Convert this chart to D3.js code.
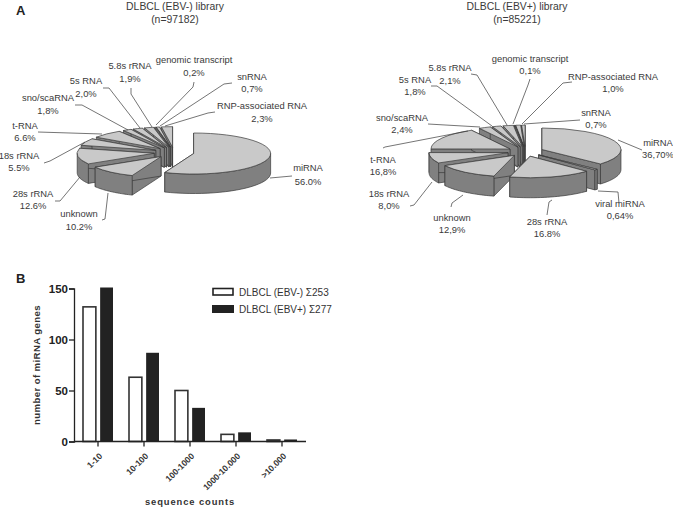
<!DOCTYPE html>
<html>
<head>
<meta charset="utf-8">
<title>DLBCL small RNA libraries</title>
<script src="https://cdn.jsdelivr.net/npm/d3@7"></script>
<style>
  html, body { margin: 0; padding: 0; background: #fff; }
  svg { display: block; }
  text { font-family: "Liberation Sans", Arial, sans-serif; }
</style>
</head>
<body>
<svg id="chart" width="673" height="507"></svg>
<script>
// pie A, clockwise from 12 o'clock
const negNames = ["miRNA", "unknown", "28s rRNA", "18s rRNA", "t-RNA", "sno/scaRNA", "5s RNA", "5.8s rRNA", "genomic transcript", "snRNA", "RNP-associated RNA"];
const negValues = [56.0, 10.2, 12.6, 5.5, 6.6, 1.8, 2.0, 1.9, 0.2, 0.7, 2.3];
const negText = ["56.0%", "10.2%", "12.6%", "5.5%", "6.6%", "1,8%", "2,0%", "1,9%", "0,2%", "0,7%", "2,3%"];

// pie B
const posNames = ["miRNA", "viral miRNA", "28s rRNA", "unknown", "18s rRNA", "t-RNA", "sno/scaRNA", "5s RNA", "5.8s rRNA", "genomic transcript", "RNP-associated RNA", "snRNA"];
const posValues = [36.7, 0.64, 16.8, 12.9, 8.0, 16.8, 2.4, 1.8, 2.1, 0.1, 1.0, 0.7];
const posText = ["36,70%", "0,64%", "16.8%", "12,9%", "8,0%", "16,8%", "2,4%", "1,8%", "2,1%", "0,1%", "1,0%", "0,7%"];

// bars
const countBins = ["1-10", "10-100", "100-1000", "1000-10.000", ">10.000"];
const barNeg = [132, 63, 50, 7, 1.5];
const barPos = [150, 86, 32, 8, 1];
const yTicks = [0, 50, 100, 150];

// label anchors: [center x, first baseline, second baseline]
const negLabelPos = [[308,171,185],[79,217,230],[33,197,209],[19,159,171],[25,129,141],[48,101,114],[86,84,97],[130,69,82],[194,63,76],[252,80,92],[262,109,122]];
const posLabelPos = [[658,146,158],[620,207,219],[547,225,237],[452,221,233],[389,197,209],[383,163,175],[402,121,133],[415,83,95],[450,71,84],[530,62,74],[613,80,92],[596,116,128]];

// leader lines, same order as the names
const negLeaders = [
  [[292,176],[270,178]],
  [[102,220],[105,219],[108,193]],
  [[55,201],[60,201],[80,177]],
  [[44,163],[50,161],[85,142]],
  [[38,132],[102,134]],
  [[75,105],[82,105],[128,130]],
  [[103,88],[109,88],[140,128]],
  [[131,88],[131,94],[152,127]],
  [[194,82],[193,87],[156,125]],
  [[232,83],[224,84],[160,126]],
  [[215,112],[208,113],[165,126]]
];
const posLeaders = [
  [[642,150],[618,140]],
  [[619,203],[618,192],[598,191]],
  [[547,215],[549,202],[552,200]],
  [[451,207],[452,203],[463,195]],
  [[410,206],[414,205],[432,182]],
  [[383,148],[385,147],[468,131]],
  [[428,124],[480,127]],
  [[431,86],[437,86],[492,126]],
  [[471,74],[477,75],[507,125]],
  [[530,79],[528,85],[513,124]],
  [[572,82],[563,83],[522,124]],
  [[580,120],[524,124]]
];

const svg = d3.select("#chart");
const ink = "#3a3a3a";
const topFill = "#c9c9c9";
const sideFill = "#808080";

function drawPie(names, values, text, labelPos, leaders, cx, cy, rx, ry, depth, explode) {
  const k = ry / rx;
  const arcs = d3.pie().sort(null)(values);
  const arc = d3.arc().innerRadius(0).outerRadius(rx);
  const line = d3.line();
  const g = svg.append("g");

  const at = (c, r, a, dz) => [c[0] + r * Math.sin(a), c[1] - r * k * Math.cos(a) + dz];

  arcs.map(function(d) {
    const mid = (d.startAngle + d.endAngle) / 2;
    const c = [cx + explode * Math.sin(mid), cy - explode * k * Math.cos(mid)];
    return { d: d, mid: mid, c: c };
  })
  .sort(function(a, b) { return a.c[1] - b.c[1]; })
  .forEach(function(s) {
    const d = s.d, c = s.c;
    const slice = g.append("g");

    // the two cut faces
    [d.startAngle, d.endAngle].forEach(function(a) {
      slice.append("path")
        .attr("d", line([[c[0], c[1]], at(c, rx, a, 0), at(c, rx, a, depth), [c[0], c[1] + depth]]) + "Z")
        .attr("fill", sideFill).attr("stroke", ink).attr("stroke-width", 0.7);
    });

    // rim, only the part facing the viewer
    const from = Math.max(d.startAngle, Math.PI / 2);
    const to = Math.min(d.endAngle, Math.PI * 3 / 2);
    if (to > from) {
      const angles = d3.range(0, 25).map(function(i) { return from + (to - from) * i / 24; });
      const pts = angles.map(function(a) { return at(c, rx, a, 0); })
        .concat(angles.slice().reverse().map(function(a) { return at(c, rx, a, depth); }));
      slice.append("path").attr("d", line(pts) + "Z")
        .attr("fill", sideFill).attr("stroke", ink).attr("stroke-width", 0.7);
    }

    slice.append("path")
      .attr("d", arc(d))
      .attr("transform", "translate(" + c[0] + "," + c[1] + ") scale(1," + k + ")")
      .attr("fill", topFill).attr("stroke", ink).attr("stroke-width", 0.7)
      .attr("vector-effect", "non-scaling-stroke");
  });

  leaders.forEach(function(l) {
    svg.append("path").attr("d", line(l)).attr("fill", "none")
      .attr("stroke", ink).attr("stroke-width", 0.7);
  });

  names.forEach(function(n, i) {
    const lab = svg.append("g").attr("font-size", 9.4).attr("fill", ink).attr("text-anchor", "middle");
    lab.append("text").attr("x", labelPos[i][0]).attr("y", labelPos[i][1]).text(n);
    lab.append("text").attr("x", labelPos[i][0]).attr("y", labelPos[i][2]).text(text[i]);
  });
}

function title(x, a, b) {
  const t = svg.append("g").attr("font-size", 10.4).attr("fill", ink).attr("text-anchor", "middle");
  t.append("text").attr("x", x).attr("y", 10).text(a);
  t.append("text").attr("x", x).attr("y", 23).text(b);
}

title(175, "DLBCL (EBV-) library", "(n=97182)");
title(517, "DLBCL (EBV+) library", "(n=85221)");
svg.append("text").attr("x", 16).attr("y", 15).attr("font-size", 13).attr("font-weight", "bold").attr("fill", "#222").text("A");
svg.append("text").attr("x", 16).attr("y", 283).attr("font-size", 13).attr("font-weight", "bold").attr("fill", "#222").text("B");

drawPie(negNames, negValues, negText, negLabelPos, negLeaders, 174, 152.5, 77, 20.5, 19.5, 20);
drawPie(posNames, posValues, posText, posLabelPos, posLeaders, 525.5, 151.5, 79, 21.5, 20, 18);

// panel B
const x0 = d3.scaleBand().domain(countBins).range([75, 305]).paddingInner(0.348).paddingOuter(0.174);
const x1 = d3.scaleBand().domain(["neg", "pos"]).range([0, x0.bandwidth()]).paddingInner(0.25);
const y = d3.scaleLinear().domain([0, 150]).range([441.5, 288.5]);

const bars = svg.append("g");
countBins.forEach(function(c, i) {
  bars.append("rect")
    .attr("x", x0(c) + x1("neg")).attr("y", y(barNeg[i]))
    .attr("width", x1.bandwidth()).attr("height", y(0) - y(barNeg[i]))
    .attr("fill", "#fff").attr("stroke", "#333").attr("stroke-width", 1.6);
  bars.append("rect")
    .attr("x", x0(c) + x1("pos")).attr("y", y(barPos[i]) - 1)
    .attr("width", x1.bandwidth()).attr("height", y(0) - y(barPos[i]) + 1)
    .attr("fill", "#222");
});

const yAxis = svg.append("g").attr("transform", "translate(74,0)")
  .call(d3.axisLeft(y).tickValues(yTicks).tickSize(5).tickPadding(1));
const xAxis = svg.append("g").attr("transform", "translate(0,441.5)")
  .call(d3.axisBottom(x0).tickSize(5).tickPadding(3));
xAxis.select(".domain").attr("d", "M74,0H306");
yAxis.selectAll("path,line").attr("stroke", "#222").attr("stroke-width", 1.3);
xAxis.selectAll("path,line").attr("stroke", "#222").attr("stroke-width", 1.3);
yAxis.selectAll("text").attr("font-size", 11.5).attr("font-weight", "bold").attr("fill", "#222")
  .attr("font-family", '"Liberation Sans", Arial, sans-serif');
xAxis.selectAll("text").attr("font-size", 8.6).attr("font-weight", "bold").attr("fill", "#333")
  .attr("font-family", '"Liberation Sans", Arial, sans-serif')
  .attr("text-anchor", "end").attr("dy", "0.3em").attr("dx", "-1")
  .attr("transform", "translate(-2,7) rotate(-45)");

svg.append("text").attr("transform", "translate(40,365) rotate(-90)")
  .attr("text-anchor", "middle").attr("font-size", 9.6).attr("font-weight", "bold")
  .attr("letter-spacing", 0.4).attr("fill", "#333").text("number of miRNA genes");
svg.append("text").attr("x", 190).attr("y", 505)
  .attr("text-anchor", "middle").attr("font-size", 9.4).attr("font-weight", "bold")
  .attr("letter-spacing", 0.9).attr("fill", "#333").text("sequence counts");

// legend
svg.append("rect").attr("x", 213).attr("y", 288.5).attr("width", 20).attr("height", 6.5)
  .attr("fill", "#fff").attr("stroke", "#222").attr("stroke-width", 1.6);
svg.append("rect").attr("x", 212).attr("y", 305).attr("width", 22).attr("height", 8).attr("fill", "#222");
svg.append("text").attr("x", 239).attr("y", 296).attr("font-size", 10).attr("fill", "#333").text("DLBCL (EBV-) Σ253");
svg.append("text").attr("x", 239).attr("y", 313).attr("font-size", 10).attr("fill", "#333").text("DLBCL (EBV+) Σ277");
</script>
</body>
</html>
